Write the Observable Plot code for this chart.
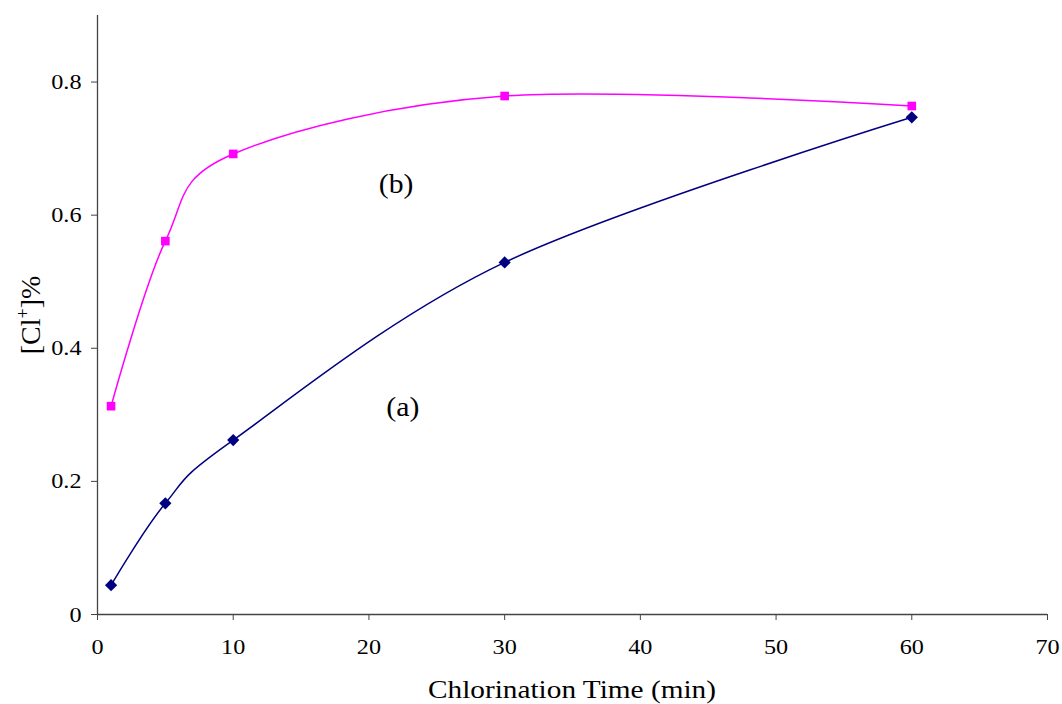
<!DOCTYPE html>
<html><head><meta charset="utf-8">
<script src="https://cdn.jsdelivr.net/npm/d3@7"></script>
<script src="https://cdn.jsdelivr.net/npm/@observablehq/plot@0.6"></script>
<style>
html,body{margin:0;padding:0;background:#fff;}
#chart{width:1062px;height:704px;}
</style>
</head><body><div id="chart"></div>
<script>
const times = [1, 5, 10, 30, 60];
const seriesA = [0.044, 0.167, 0.262, 0.529, 0.747];
const seriesB = [0.313, 0.561, 0.692, 0.779, 0.764];
const xTicks = [0, 10, 20, 30, 40, 50, 60, 70];
const yTicks = [0, 0.2, 0.4, 0.6, 0.8];
const seriesLabels = [{t: "(a)", x: 22.5, y: 0.311}, {t: "(b)", x: 22.0, y: 0.647}];

const dataA = times.map((t, i) => ({t, v: seriesA[i]}));
const dataB = times.map((t, i) => ({t, v: seriesB[i]}));

const font = "'Liberation Serif', 'Times New Roman', serif";
const plot = Plot.plot({
  width: 1062, height: 704,
  marginLeft: 97, marginRight: 15, marginTop: 15, marginBottom: 90,
  style: {fontFamily: font, fontSize: "22px", color: "#000", background: "#fff"},
  x: {domain: [0, 70]},
  y: {domain: [0, 0.9]},
  marks: [
    Plot.axisX({ticks: xTicks, tickSize: 6, tickPadding: 18, fontSize: 22, label: null, stroke: "#444"}),
    Plot.axisY({ticks: yTicks, tickSize: 6, tickPadding: 10, fontSize: 22, label: null, stroke: "#444",
      tickFormat: d => d === 0 ? "0" : d3.format(".1f")(d)}),
    Plot.ruleX([0], {stroke: "#444", strokeWidth: 1.3}),
    Plot.ruleY([0], {stroke: "#444", strokeWidth: 1.3}),
    Plot.line(dataA, {x: "t", y: "v", stroke: "#000080", strokeWidth: 1.5, curve: "cardinal"}),
    Plot.line(dataB, {x: "t", y: "v", stroke: "#FF00FF", strokeWidth: 1.5, curve: "cardinal"}),
    Plot.dot(dataA, {x: "t", y: "v", symbol: "diamond2", r: 5.5, fill: "#000080", stroke: "none"}),
    Plot.dot(dataB, {x: "t", y: "v", symbol: "square2", r: 5.5, fill: "#FF00FF", stroke: "none"}),
    Plot.text(seriesLabels, {x: "x", y: "y", text: "t", fontSize: 27, fill: "#000"})
  ]
});
document.getElementById("chart").appendChild(plot);
const svg = d3.select(plot);
// reference text is slightly widened horizontally; stretch glyphs to match
svg.selectAll("text").each(function() {
  const len = this.getComputedTextLength();
  if (len > 0) {
    this.setAttribute("textLength", (len * 1.1).toFixed(1));
    this.setAttribute("lengthAdjust", "spacingAndGlyphs");
  }
});
svg.append("text").attr("x", 572).attr("y", 698).attr("text-anchor", "middle")
  .attr("font-family", font).attr("font-size", 26).attr("fill", "#000")
  .attr("textLength", 288).attr("lengthAdjust", "spacingAndGlyphs")
  .text("Chlorination Time (min)");
const yl = svg.append("text").attr("transform", "translate(40,315) rotate(-90)").attr("text-anchor", "middle")
  .attr("font-family", font).attr("font-size", 28).attr("fill", "#000");
yl.append("tspan").text("[Cl");
yl.append("tspan").attr("dy", -11).attr("font-size", 18).text("+");
yl.append("tspan").attr("dy", 11).text("]%");
</script>
</body></html>
